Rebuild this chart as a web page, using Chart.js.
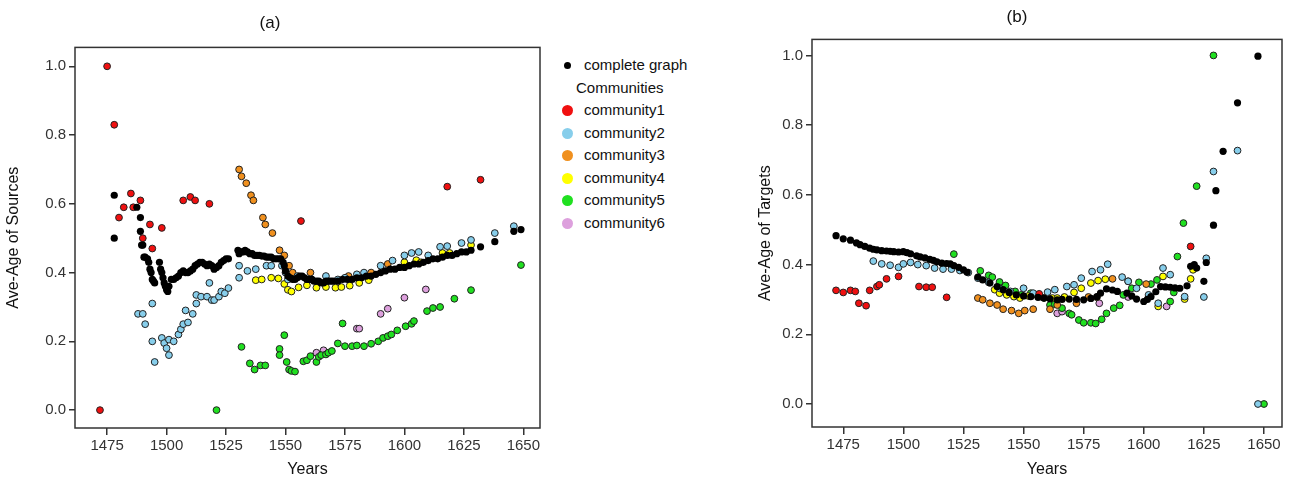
<!DOCTYPE html>
<html><head><meta charset="utf-8">
<script src="https://cdn.jsdelivr.net/npm/chart.js@4.4.1/dist/chart.umd.min.js"></script>
<style>
body{margin:0;background:#fff;width:1299px;height:483px;overflow:hidden;position:relative;font-family:"Liberation Sans",Arial,sans-serif}
#ca{position:absolute;left:0;top:0}
#cb{position:absolute;left:752px;top:0}
#leg{position:absolute;left:556px;top:54px;font-size:15px;color:#111;line-height:22.5px}
#leg div{position:relative;padding-left:28px;white-space:nowrap}
#leg span{position:absolute;left:6px;top:6px;width:11px;height:11px;border-radius:50%}
</style></head><body>
<canvas id="ca" width="550" height="483"></canvas>
<canvas id="cb" width="547" height="483"></canvas>
<div id="leg">
<div><span style="width:7px;height:7px;left:8px;top:8px;background:#000"></span>complete graph</div>
<div style="padding-left:20px">Communities</div>
<div><span style="background:#f01010"></span>community1</div>
<div><span style="background:#87ceeb"></span>community2</div>
<div><span style="background:#f0901e"></span>community3</div>
<div><span style="background:#ffff00"></span>community4</div>
<div><span style="background:#20e020"></span>community5</div>
<div><span style="background:#dda0dd"></span>community6</div>
</div>
<script>
const xTicks=[1475,1500,1525,1550,1575,1600,1625,1650];
const yTicks=[0,0.2,0.4,0.6,0.8,1.0];
const names=["complete graph","community1","community2","community3","community4","community5","community6"];
const colors=["#000000","#f01010","#87ceeb","#f0901e","#ffff00","#20e020","#dda0dd"];

// Panel (a) sources: [year, value]
const aComplete=[[1478,0.625],[1478,0.50],[1487.5,0.59],[1489,0.56],[1489,0.52],[1489.5,0.48],[1490,0.48],[1490.5,0.445],[1491,0.445],[1492,0.44],[1492.5,0.43],[1493,0.41],[1493.5,0.40],[1494,0.38],[1494.5,0.375],[1495,0.37],[1497,0.43],[1497.5,0.41],[1498,0.40],[1498.5,0.385],[1499,0.37],[1499.5,0.36],[1500,0.35],[1500.5,0.345],[1501,0.36],[1502,0.38],[1503,0.38],[1504,0.385],[1505,0.39],[1506,0.40],[1507,0.405],[1508,0.40],[1509,0.40],[1510,0.405],[1511,0.41],[1512,0.42],[1513,0.425],[1514,0.43],[1515,0.43],[1516,0.425],[1517,0.42],[1518,0.425],[1519,0.42],[1520,0.41],[1521,0.415],[1522,0.42],[1523,0.43],[1524,0.435],[1525,0.44],[1526,0.44],[1530,0.465],[1530.5,0.455],[1531,0.46],[1532,0.46],[1533,0.465],[1534,0.46],[1535,0.455],[1536,0.455],[1537,0.45],[1538,0.45],[1539,0.45],[1540,0.448],[1541,0.448],[1542,0.445],[1543,0.445],[1544,0.445],[1545,0.44],[1546,0.44],[1547,0.44],[1548,0.44],[1549,0.43],[1549.5,0.42],[1550,0.405],[1551,0.39],[1552,0.385],[1553,0.38],[1554,0.38],[1555,0.385],[1556,0.39],[1557,0.39],[1558,0.385],[1559,0.38],[1560,0.38],[1561,0.38],[1562,0.375],[1563,0.375],[1564,0.375],[1565,0.37],[1566,0.37],[1567,0.375],[1568,0.375],[1569,0.375],[1570,0.375],[1572,0.375],[1574,0.38],[1576,0.38],[1578,0.38],[1580,0.385],[1582,0.385],[1584,0.39],[1586,0.39],[1588,0.395],[1590,0.40],[1592,0.405],[1594,0.41],[1596,0.41],[1598,0.415],[1600,0.415],[1602,0.42],[1604,0.425],[1606,0.425],[1608,0.43],[1610,0.435],[1612,0.44],[1614,0.44],[1616,0.445],[1618,0.45],[1620,0.45],[1622,0.455],[1624,0.46],[1626,0.46],[1628,0.465],[1632,0.475],[1638,0.49],[1646,0.52],[1649,0.525]];
const aC1=[[1472,0],[1475,1.0],[1478,0.83],[1480,0.56],[1482,0.59],[1485,0.63],[1486,0.59],[1489,0.61],[1490,0.5],[1493,0.54],[1494,0.47],[1498,0.53],[1507,0.61],[1510,0.62],[1512,0.61],[1518,0.60],[1556.5,0.55],[1618,0.65],[1632,0.67]];
const aC2=[[1488,0.28],[1490,0.28],[1491,0.25],[1494,0.31],[1494,0.20],[1495,0.14],[1498,0.21],[1499,0.195],[1500,0.18],[1501,0.16],[1501,0.205],[1503,0.20],[1505,0.22],[1506,0.235],[1507,0.25],[1508,0.29],[1509,0.255],[1511,0.28],[1512.5,0.31],[1512.5,0.335],[1514.5,0.33],[1517,0.33],[1518,0.37],[1519,0.32],[1520,0.32],[1522,0.33],[1523,0.345],[1524.5,0.34],[1526,0.355],[1530.5,0.42],[1530.5,0.385],[1534,0.405],[1537.5,0.41],[1542,0.42],[1544,0.42],[1548.5,0.42],[1550,0.40],[1551,0.38],[1555,0.39],[1561,0.38],[1567,0.39],[1572,0.38],[1575,0.385],[1580,0.395],[1583,0.40],[1590,0.42],[1595,0.435],[1600,0.45],[1603,0.457],[1606,0.46],[1610,0.45],[1615,0.475],[1618,0.477],[1624,0.486],[1628,0.495],[1638,0.515],[1646,0.535]];
const aC3=[[1530.5,0.70],[1531.5,0.68],[1533.5,0.66],[1535.5,0.625],[1536.5,0.61],[1540.5,0.56],[1541.5,0.54],[1544.5,0.515],[1547.5,0.465],[1549.5,0.45],[1551.5,0.42],[1553,0.40],[1560.5,0.40],[1576.5,0.39],[1586,0.40],[1593,0.425]];
const aC4=[[1537.5,0.378],[1540,0.38],[1544,0.385],[1547,0.383],[1549.5,0.367],[1551,0.35],[1552.5,0.345],[1555.5,0.357],[1559,0.363],[1563,0.356],[1567,0.358],[1571,0.356],[1573.5,0.358],[1577,0.362],[1581,0.37],[1585,0.378],[1600,0.43],[1605,0.436],[1607,0.43],[1616,0.457],[1619,0.457],[1628,0.48]];
const aC5=[[1521,0.0],[1531.5,0.184],[1535,0.136],[1537,0.118],[1539.5,0.13],[1541.5,0.13],[1547.5,0.178],[1547.5,0.16],[1549.5,0.218],[1550.5,0.14],[1551.5,0.118],[1552.5,0.114],[1554,0.112],[1557.5,0.142],[1559,0.145],[1560.5,0.157],[1563,0.14],[1564,0.155],[1565,0.16],[1567,0.162],[1568,0.167],[1569.5,0.172],[1572,0.194],[1574,0.252],[1575,0.186],[1578,0.186],[1580,0.188],[1583,0.186],[1586,0.193],[1589,0.2],[1591,0.21],[1593,0.215],[1594.5,0.22],[1597,0.232],[1600.5,0.244],[1603,0.251],[1604,0.259],[1609.5,0.288],[1612,0.297],[1615,0.3],[1621,0.324],[1628,0.349],[1649,0.422]];
const aC6=[[1563,0.167],[1566,0.174],[1580,0.237],[1581,0.237],[1590,0.28],[1593,0.295],[1600,0.327],[1609,0.351]];

// Panel (b) targets
const bComplete=[[1472,0.483],[1475,0.474],[1478,0.47],[1480.5,0.462],[1482,0.457],[1484,0.452],[1486,0.447],[1487.5,0.444],[1489,0.442],[1491,0.44],[1493,0.439],[1494.5,0.438],[1496,0.437],[1498,0.436],[1500,0.437],[1501.5,0.434],[1503,0.431],[1505.5,0.425],[1507,0.422],[1509,0.419],[1511,0.415],[1512.5,0.412],[1514,0.408],[1516,0.404],[1518,0.403],[1519.5,0.402],[1521,0.397],[1523,0.392],[1525,0.385],[1526.5,0.378],[1531,0.364],[1533,0.356],[1536,0.347],[1539,0.337],[1541.5,0.328],[1544,0.32],[1547,0.313],[1550,0.31],[1553,0.308],[1556,0.306],[1558.5,0.304],[1561,0.302],[1564,0.299],[1566,0.3],[1569,0.301],[1572,0.3],[1575,0.299],[1578,0.303],[1580.5,0.308],[1582,0.318],[1584.5,0.33],[1587,0.327],[1589,0.323],[1593,0.318],[1595,0.31],[1597,0.301],[1600,0.294],[1601.5,0.3],[1603,0.308],[1605,0.322],[1607,0.337],[1609,0.336],[1611,0.335],[1613,0.333],[1615,0.332],[1618,0.339],[1619.5,0.395],[1621,0.4],[1622,0.39],[1625,0.352],[1626,0.406],[1629,0.513],[1630,0.612],[1633,0.725],[1639,0.864],[1647.5,0.998]];
const bC1=[[1472,0.326],[1475,0.32],[1478,0.326],[1480,0.323],[1481.5,0.289],[1484.5,0.282],[1486,0.326],[1489,0.337],[1490,0.342],[1493,0.359],[1498,0.366],[1506.5,0.337],[1509.5,0.335],[1512,0.335],[1518,0.306],[1556.5,0.316],[1619.5,0.452]];
const bC2=[[1487.5,0.41],[1491,0.402],[1494.5,0.398],[1498,0.392],[1500,0.402],[1503,0.406],[1506,0.4],[1509.5,0.397],[1513,0.39],[1516.5,0.387],[1520,0.387],[1523.5,0.383],[1527,0.377],[1531,0.361],[1535.5,0.349],[1540,0.332],[1544.5,0.323],[1550,0.332],[1554,0.318],[1560,0.321],[1563,0.328],[1568,0.337],[1571,0.342],[1574,0.361],[1578.5,0.38],[1582,0.385],[1585,0.401],[1591,0.364],[1593.5,0.352],[1597,0.332],[1602,0.313],[1606,0.289],[1608,0.39],[1611,0.371],[1617,0.308],[1625,0.307],[1626,0.418],[1629,0.667],[1639,0.727],[1647.5,0.0]];
const bC3=[[1531,0.304],[1533,0.299],[1536,0.289],[1539,0.284],[1541.5,0.272],[1545,0.268],[1548,0.26],[1550.5,0.268],[1554,0.272],[1561,0.272],[1564,0.284],[1572,0.289],[1577,0.307],[1580.5,0.306],[1587,0.359],[1593.5,0.352],[1601,0.344]];
const bC4=[[1538,0.328],[1540,0.318],[1543,0.313],[1546,0.308],[1548.5,0.304],[1552,0.31],[1557,0.308],[1562,0.304],[1564,0.304],[1567,0.307],[1571,0.32],[1574,0.332],[1578,0.347],[1581,0.354],[1584,0.358],[1606,0.28],[1608,0.366],[1617,0.301],[1619.5,0.359],[1620.5,0.385]];
const bC5=[[1521,0.43],[1532,0.382],[1535.5,0.369],[1537,0.364],[1540,0.35],[1542.5,0.34],[1546.5,0.323],[1549,0.313],[1553,0.318],[1555.5,0.313],[1558.5,0.304],[1561,0.284],[1563,0.286],[1566,0.275],[1569,0.26],[1570,0.256],[1573,0.241],[1575,0.233],[1578,0.233],[1580,0.231],[1582.5,0.243],[1584.5,0.26],[1587.5,0.275],[1590,0.283],[1591.5,0.313],[1595,0.332],[1598,0.349],[1603,0.344],[1605.5,0.356],[1611,0.294],[1612.5,0.32],[1614,0.423],[1616.5,0.519],[1622,0.625],[1629,1.0],[1650,0.0]];
const bC6=[[1564,0.26],[1566,0.265],[1581.5,0.289],[1593.5,0.307],[1609.5,0.28]];

function ds(arr,i){return {label:names[i],data:arr.map(p=>({x:p[0],y:p[1]})),backgroundColor:colors[i],borderColor:i===0?'#000':'#222',borderWidth:i===0?0:1,pointRadius:i===0?3.6:3.4,pointHoverRadius:3.4};}
const boxPlugin={id:'box',afterDraw(c){const a=c.chartArea,x=c.ctx;x.save();x.strokeStyle='#333';x.lineWidth=1.5;x.strokeRect(a.left,a.top,a.right-a.left,a.bottom-a.top);x.restore();}};
function make(id,sets,ytitle,title,yW,rightPad,tPad,xH,xmin,xmax,ymin,ymax){
 new Chart(document.getElementById(id),{type:'scatter',data:{datasets:sets},plugins:[boxPlugin],
 options:{responsive:false,animation:false,layout:{padding:{left:0,right:rightPad,top:0,bottom:0}},
 plugins:{legend:{display:false},tooltip:{enabled:false},title:{display:true,text:title,font:{size:17,family:'Liberation Sans',weight:'normal'},color:'#111',padding:{top:tPad[0],bottom:tPad[1]}}},
 scales:{
  x:{type:'linear',min:xmin,max:xmax,afterBuildTicks(s){s.ticks=xTicks.map(v=>({value:v}));},afterFit(s){s.height=xH;},
     ticks:{font:{size:15,family:'Liberation Sans'},color:'#333',padding:2,callback:v=>String(v)},grid:{drawOnChartArea:false,color:'#333',tickLength:7,lineWidth:1.5},border:{display:false},
     title:{display:true,text:'Years',font:{size:16,family:'Liberation Sans'},color:'#111',padding:{top:1}}},
  y:{type:'linear',min:ymin,max:ymax,afterBuildTicks(s){s.ticks=yTicks.map(v=>({value:v}));},afterFit(s){s.width=yW;},
     ticks:{font:{size:15,family:'Liberation Sans'},color:'#333',padding:3,callback:v=>v.toFixed(1)},grid:{drawOnChartArea:false,color:'#333',tickLength:6,lineWidth:1.5},border:{display:false},
     title:{display:true,text:ytitle,font:{size:16,family:'Liberation Sans'},color:'#111',padding:{bottom:4}}}
 }}});
}
make('ca',[ds(aComplete,0),ds(aC1,1),ds(aC2,2),ds(aC3,3),ds(aC4,4),ds(aC5,5),ds(aC6,6)],'Ave-Age of Sources','(a)',75,10,[13,14],55,1461.5,1657,-0.052,1.055);
make('cb',[ds(bComplete,0),ds(bC1,1),ds(bC2,2),ds(bC3,3),ds(bC4,4),ds(bC5,5),ds(bC6,6)],'Ave-Age of Targets','(b)',60,17,[7,12],56,1462,1657.5,-0.066,1.046);
</script></body></html>
